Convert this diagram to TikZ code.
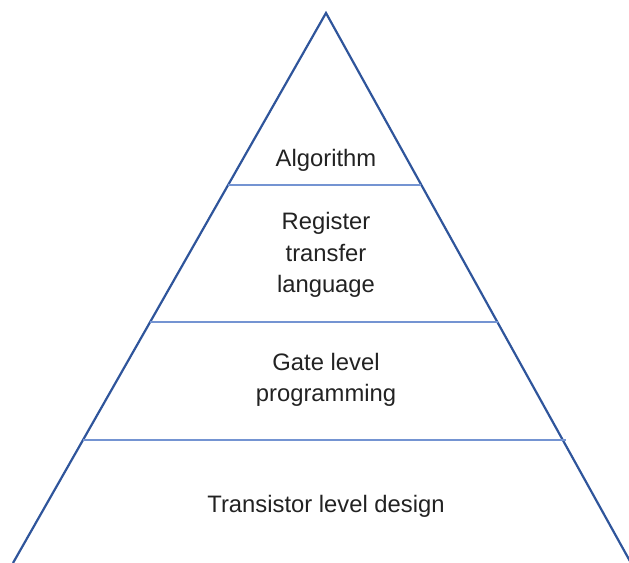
\documentclass[tikz,border=0pt]{standalone}
\usepackage{fontspec}
\setmainfont{Liberation Sans}
\definecolor{edgeblue}{RGB}{47,85,155}
\definecolor{layerblue}{RGB}{116,148,210}
\definecolor{labelgray}{RGB}{34,34,34}
\tikzset{
  side/.style = {draw=edgeblue, line width=1.1pt},
  divider/.style = {draw=layerblue, line width=0.7pt},
  layer/.style = {align=center, text=labelgray, font=\fontsize{11.9}{15.8}\selectfont}
}

\begin{document}
\begin{tikzpicture}[x=0.5pt, y=-0.5pt]
    \useasboundingbox (0,0) rectangle (629,563);
    \clip (0,0) rectangle (629,563);
    \coordinate (top) at (326,13);
    \coordinate (bl) at (13,563);
    \coordinate (br) at (631,563);
    \coordinate (a1) at (228,185);
    \coordinate (b1) at (421,185);
    \coordinate (a2) at (150,322);
    \coordinate (b2) at (498,322);
    \coordinate (a3) at (83,440);
    \coordinate (b3) at (566,440);
    \draw[side] (bl) -- (top) -- (br);
    \draw[divider] (a1) -- (b1);
    \draw[divider] (a2) -- (b2);
    \draw[divider] (a3) -- (b3);
    \node[layer] (algo) at (326,160) {Algorithm};
    \node[layer] (rtl) at (326,255) {Register\\transfer\\language};
    \node[layer] (gate) at (326,380) {Gate level\\programming};
    \node[layer] (trans) at (326,506) {Transistor level design};
\end{tikzpicture}
\end{document}
